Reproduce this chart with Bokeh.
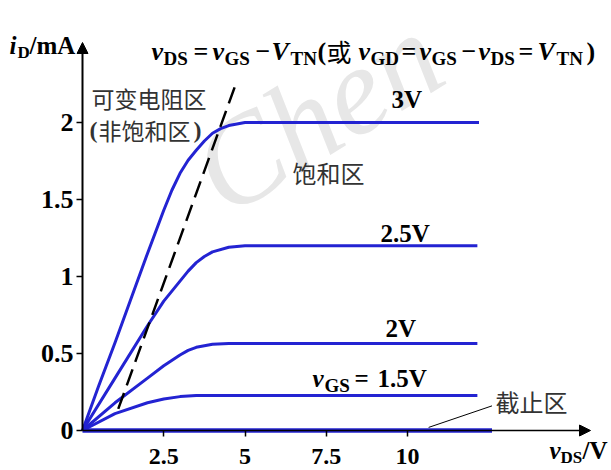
from bokeh.plotting import figure
from bokeh.models import Label, Arrow, NormalHead, Range1d, FixedTicker
from bokeh.embed import file_html
from bokeh.resources import INLINE

# ---- data ----
vds_3 = [0, 0.5, 1, 1.5, 2, 2.5, 2.75, 3, 3.25, 3.5, 3.75, 4, 4.25, 4.5, 5, 12.2]
id_3 = [0, 0.29, 0.57, 0.86, 1.15, 1.43, 1.56, 1.67, 1.755, 1.82, 1.88, 1.93, 1.96, 1.98, 2.0, 2.0]
vds_25 = [0, 1, 2, 2.5, 3, 3.25, 3.5, 3.75, 4, 4.5, 5, 12.15]
id_25 = [0, 0.34, 0.68, 0.84, 0.97, 1.035, 1.09, 1.13, 1.16, 1.19, 1.2, 1.2]
vds_2 = [0, 1, 2, 2.5, 3, 3.25, 3.5, 4, 4.5, 12.15]
id_2 = [0, 0.18, 0.34, 0.42, 0.49, 0.52, 0.54, 0.56, 0.565, 0.565]
vds_15 = [0, 1, 2, 2.5, 3, 3.5, 12.15]
id_15 = [0, 0.11, 0.18, 0.205, 0.22, 0.227, 0.227]
vds_off = [0, 12.6]
id_off = [0, 0]
# boundary vDS = vGS - VTN (dashed)
vds_edge = [1.1, 4.7]
id_edge = [0.14, 2.24]
# leader line to the cut-off label
vds_lead = [10.65, 12.6]
id_lead = [0.02, 0.16]

x_ticks = [2.5, 5, 7.5, 10]
x_tick_labels = ["2.5", "5", "7.5", "10"]
y_ticks = [0, 0.5, 1, 1.5, 2]
y_tick_labels = ["0", "0.5", "1", "1.5", "2"]

# ---- layout: picture px -> data ----
W, H = 611, 470
OX, OY, SX, SY = 82.0, 430.0, 32.5, 154.0


def dx(px):
    return (px - OX) / SX


def dy(py):
    return (OY - py) / SY


p = figure(width=W, height=H, output_backend="svg", toolbar_location=None,
           x_range=Range1d(dx(0), dx(W)), y_range=Range1d(dy(H), dy(0)),
           min_border_left=0, min_border_right=0, min_border_top=0,
           min_border_bottom=0)
p.outline_line_color = None
p.xgrid.visible = False
p.ygrid.visible = False
p.background_fill_color = "white"
p.border_fill_color = "white"

for ax in (p.xaxis[0], p.yaxis[0]):
    ax.fixed_location = 0
    ax.axis_line_color = None
    ax.major_tick_line_color = "black"
    ax.major_tick_line_width = 1.5
    ax.major_tick_out = 6
    ax.major_tick_in = 0
    ax.minor_tick_line_color = None
    ax.major_label_text_font = "Liberation Serif"
    ax.major_label_text_font_style = "bold"
    ax.major_label_text_color = "black"

p.xaxis[0].major_label_text_font_size = "24px"
p.yaxis[0].major_label_text_font_size = "26px"
p.xaxis[0].major_label_standoff = 12
p.yaxis[0].major_label_standoff = 3
p.xaxis[0].ticker = FixedTicker(ticks=x_ticks)
p.xaxis[0].major_label_overrides = dict(zip(x_ticks, x_tick_labels))
p.yaxis[0].ticker = FixedTicker(ticks=y_ticks)
p.yaxis[0].major_label_overrides = dict(zip(y_ticks, y_tick_labels))

# faint watermark of the source page
p.add_layout(Label(x=dx(240), y=dy(241), text="Chen", text_font="Liberation Serif",
                   text_font_style="italic", text_font_size="125px",
                   text_color="#e7e7e7", angle=0.55, level="underlay"))

# axes with arrow heads
p.add_layout(Arrow(end=NormalHead(size=11, fill_color="black", line_color="black"),
                   x_start=0, y_start=0, x_end=dx(590), y_end=0,
                   line_color="black", line_width=1.5))
p.add_layout(Arrow(end=NormalHead(size=11, fill_color="black", line_color="black"),
                   x_start=0, y_start=0, x_end=0, y_end=dy(42),
                   line_color="black", line_width=2))

BLUE = "#2323d2"
for xs, ys in [(vds_3, id_3), (vds_25, id_25), (vds_2, id_2), (vds_15, id_15)]:
    p.line(xs, ys, line_color=BLUE, line_width=3, line_join="round")
p.line(vds_off, id_off, line_color=BLUE, line_width=4.5)
p.line(vds_edge, id_edge, line_color="black", line_width=2.5, line_dash="17 8")
p.line(vds_lead, id_lead, line_color="black", line_width=1)


def lab(text, px, cy, size=26, style="bold", font="Liberation Serif",
        color="black"):
    p.add_layout(Label(x=dx(px), y=dy(cy), text=text, text_font=font,
                       text_font_size=f"{size}px", text_font_style=style,
                       text_color=color, text_baseline="middle"))


SUB = 19
SD = 7  # subscript drop (centre to centre)
BI = "bold italic"

# y axis label  i_D / mA
lab("i", 9, 45, size=25, style=BI)
lab("D", 17, 45 + SD, size=17)
lab("/mA", 29, 45, size=25)

# boundary formula
TY = 51
lab("v", 151, TY, style=BI)
lab("DS", 163, TY + SD, size=SUB)
lab("=", 193, TY)
lab("v", 212, TY, style=BI)
lab("GS", 224, TY + SD, size=SUB)
lab("\u2212", 255, TY)
lab("V", 271, TY, style=BI)
lab("TN", 290, TY + SD, size=SUB)
lab("(", 317, TY)
lab("或", 326, TY - 1, size=25, style="normal", font="Noto Sans CJK SC")
lab("v", 358, TY, style=BI)
lab("GD", 370, TY + SD, size=SUB)
lab("=", 401, TY)
lab("v", 419, TY, style=BI)
lab("GS", 431, TY + SD, size=SUB)
lab("\u2212", 461, TY)
lab("v", 478, TY, style=BI)
lab("DS", 490, TY + SD, size=SUB)
lab("=", 518, TY)
lab("V", 537, TY, style=BI)
lab("TN", 556, TY + SD, size=SUB)
lab(")", 586, TY)

# curve labels
lab("3V", 391, 99, size=25)
lab("2.5V", 380, 233, size=25)
lab("2V", 385, 328, size=25)
lab("v", 312, 378, style=BI, size=25)
lab("GS", 324, 378 + SD, size=SUB)
lab("=", 354, 378, size=25)
lab("1.5V", 377, 378, size=25)

# region labels
CJK = "Noto Sans CJK SC"
GREY = "#333333"
lab("可变电阻区", 91, 97, size=23, style="normal", font=CJK, color=GREY)
lab("(", 89, 129, size=24, color=GREY)
lab("非饱和区", 98, 129, size=23, style="normal", font=CJK, color=GREY)
lab(")", 193, 129, size=24, color=GREY)
lab("饱和区", 292, 172, size=24, style="normal", font=CJK, color=GREY)
lab("截止区", 495, 401, size=24, style="normal", font=CJK, color=GREY)

# x axis label  v_DS / V
lab("v", 549, 450, style=BI, size=25)
lab("DS", 560, 450 + SD, size=17)
lab("/V", 582, 450, size=25)

open("out.html", "w").write(file_html(p, INLINE))
